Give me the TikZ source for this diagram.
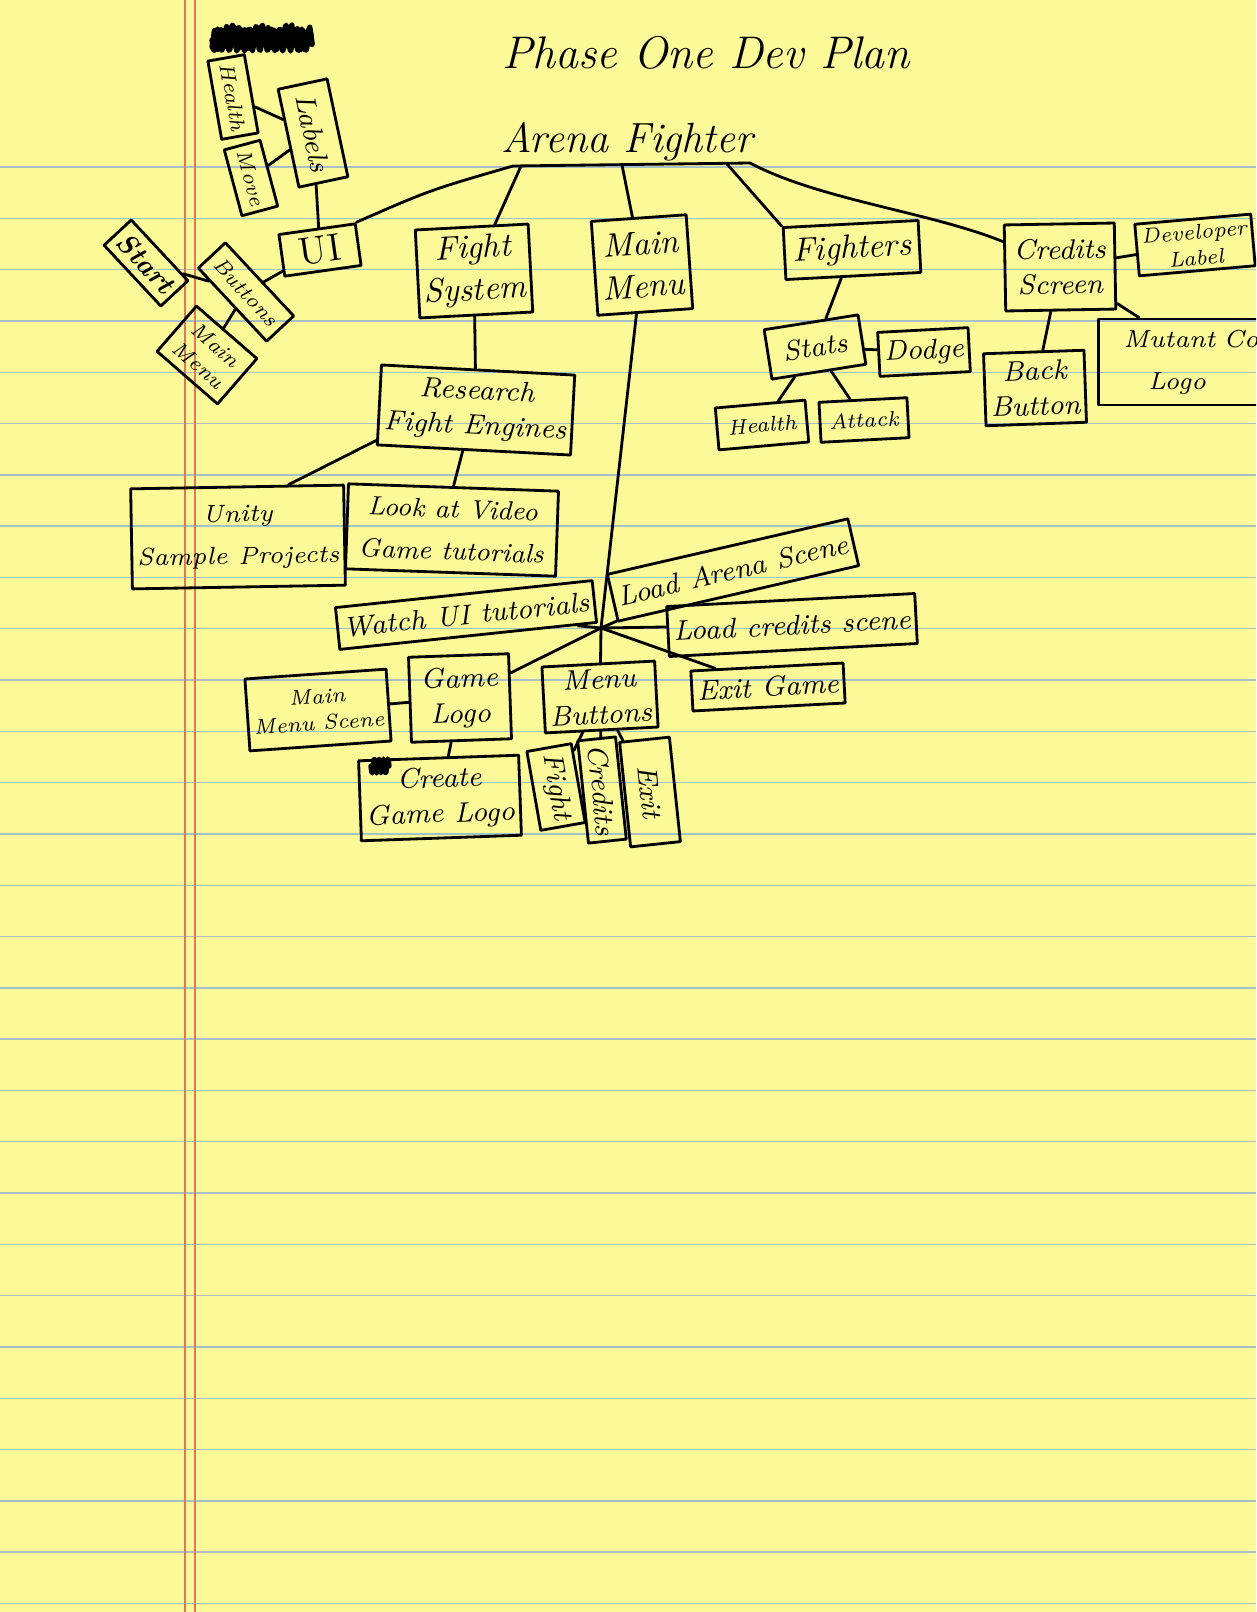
\documentclass[tikz,border=0pt]{standalone}
\usetikzlibrary{calc}

\definecolor{legal}{RGB}{252,250,152}
\definecolor{rule}{RGB}{168,192,200}
\definecolor{margin}{RGB}{226,118,98}

\tikzset{
  pen/.style={line width=0.8pt, black, line cap=round, line join=round},
  card/.style={draw, pen, align=center, inner sep=1.5pt, font=\fontsize{8}{10}\selectfont\itshape},
  tiny/.style={font=\fontsize{6}{7.5}\selectfont\itshape},
  big/.style={font=\fontsize{9.5}{12}\selectfont\itshape},
  heading/.style={inner sep=0pt, font=\fontsize{13}{15}\selectfont\itshape},
}

\begin{document}
\begin{tikzpicture}[x=0.01cm, y=-0.01cm]
  \fill[legal] (0,0) rectangle (1256,1612);
  \useasboundingbox (0,0) rectangle (1256,1612);
  \clip (0,0) rectangle (1256,1612);
  \foreach \k in {0,...,28}
    \draw[rule, line width=0.4pt] (0,167+51.3*\k) -- (1256,167+51.3*\k);
  \draw[margin, line width=0.5pt] (185,0) -- (185,1612);
  \draw[margin, line width=0.5pt] (195,0) -- (195,1612);

  % title and root
  \node[heading] (title) at (706,53) {Phase One Dev Plan};
  \node[heading, font=\fontsize{12}{14}\selectfont\itshape] (arena) at (627,142) {Arena Fighter};
  \coordinate (ulL) at (513,166);
  \coordinate (ulR) at (750,163);
  \coordinate (a1) at (521,166);
  \coordinate (a2) at (622,165);
  \coordinate (a3) at (727,164);
  \draw[pen] (ulL) -- (ulR);

  % crossed out word
  \draw[pen, line width=1.5pt] plot[domain=0:100, samples=90] ({212+\x}, {40+11*sin(\x*47)});
  \draw[pen, line width=1.5pt] plot[domain=0:100, samples=90] ({212+\x}, {37+10*cos(\x*61)+3*sin(\x*13)});

  % UI
  \node[card, tiny, rotate=-80, minimum width=0.68cm, minimum height=0.37cm] (hp) at (233,97) {Health};
  \node[card, tiny, rotate=-75, minimum width=0.63cm, minimum height=0.37cm] (move) at (251,178) {Move};
  \node[card, rotate=-78, minimum width=1.0cm, minimum height=0.5cm] (labels) at (313,133) {Labels};
  \node[card, font=\fontsize{11}{13}\selectfont, rotate=8, minimum width=0.77cm, minimum height=0.42cm] (ui) at (320,250) {UI};
  \node[card, tiny, rotate=-47, minimum width=1.0cm, minimum height=0.37cm] (buttons) at (246,292) {Buttons};
  \node[card, rotate=-47, minimum width=0.83cm, minimum height=0.37cm, font=\fontsize{8}{10}\selectfont\bfseries\itshape] (start) at (146,263) {Start};
  \node[card, tiny, rotate=-41, minimum width=0.8cm, minimum height=0.6cm] (mm) at (207,355) {Main\\Menu};

  % top row
  \node[card, big, rotate=3, minimum width=1.1cm, minimum height=0.88cm] (fight) at (474,271) {Fight\\System};
  \node[card, big, rotate=4, minimum width=0.95cm, minimum height=0.94cm] (mainmenu) at (642,265) {Main\\Menu};
  \node[card, big, rotate=3, minimum width=1.35cm, minimum height=0.52cm] (fighters) at (852,250) {Fighters};
  \node[card, rotate=1, minimum width=1.1cm, minimum height=0.86cm] (credits) at (1060,267) {Credits\\Screen};

  % credits
  \node[card, tiny, rotate=5, minimum width=0.98cm, minimum height=0.5cm] (devlabel) at (1195,245) {Developer\\Label};
  \node[card, anchor=west, align=left, font=\fontsize{7}{12}\selectfont\itshape, inner xsep=0.25cm, text width=1.7cm, minimum height=0.86cm] (mutant) at (1097,362) {Mutant Corp\\\quad Logo};
  \node[card, rotate=2, minimum width=1.0cm, minimum height=0.72cm] (back) at (1035,388) {Back\\Button};

  % fighters
  \node[card, rotate=9, minimum width=0.95cm, minimum height=0.5cm] (stats) at (815,347) {Stats};
  \node[card, rotate=3, minimum width=0.76cm, minimum height=0.44cm] (dodge) at (924,352) {Dodge};
  \node[card, tiny, rotate=5, minimum width=0.9cm, minimum height=0.42cm] (hp2) at (762,425) {Health};
  \node[card, tiny, rotate=3, minimum width=0.88cm, minimum height=0.4cm] (attack) at (864,420) {Attack};

  % fight system
  \node[card, rotate=-3, minimum width=1.85cm, minimum height=0.8cm] (research) at (476,410) {Research\\Fight Engines};
  \node[card, rotate=1, font=\fontsize{7}{12}\selectfont\itshape, minimum width=1.82cm, minimum height=1.0cm] (unity) at (238,537) {Unity\\Sample Projects};
  \node[card, rotate=-2, font=\fontsize{7.5}{12}\selectfont\itshape, minimum width=2.1cm, minimum height=0.85cm] (look) at (452,530) {Look at Video\\Game tutorials};

  % main menu
  \coordinate (hub) at (601,628);
  \node[card, rotate=6, minimum width=2.25cm, minimum height=0.42cm] (watch) at (466,615) {Watch UI tutorials};
  \node[card, rotate=13, minimum width=2.15cm, minimum height=0.48cm] (loadarena) at (733,570) {Load Arena Scene};
  \node[card, rotate=3, minimum width=2.26cm, minimum height=0.5cm] (loadcredits) at (792,625) {Load credits scene};
  \node[card, rotate=3, minimum width=1.37cm, minimum height=0.4cm] (exitgame) at (768,687) {Exit Game};
  \node[card, rotate=2, minimum width=1.0cm, minimum height=0.85cm] (logo) at (460,698) {Game\\Logo};
  \node[card, rotate=3, minimum width=1.1cm, minimum height=0.66cm] (menubtn) at (600,697) {Menu\\Buttons};
  \node[card, tiny, rotate=4, minimum width=1.28cm, minimum height=0.72cm] (mmscene) at (318,710) {Main\\Menu Scene};
  \node[card, rotate=2, minimum width=1.6cm, minimum height=0.8cm] (createlogo) at (440,798) {Create\\Game Logo};
  \draw[pen, line width=1.5pt] plot[domain=0:18, samples=30] ({371+\x}, {766+7*sin(\x*80)});
  \node[card, rotate=-80, minimum width=0.8cm, minimum height=0.45cm] (fightbtn) at (556,787) {Fight};
  \node[card, rotate=-84, minimum width=1.0cm, minimum height=0.38cm] (creditsbtn) at (602,790) {Credits};
  \node[card, rotate=-84, minimum width=1.05cm, minimum height=0.5cm] (exitbtn) at (650,792) {Exit};

  % connectors
  \draw[pen] (ulL) .. controls (430,190) .. (ui.north east);
  \draw[pen] (a1) -- (fight);
  \draw[pen] (a2) -- (mainmenu);
  \draw[pen] (a3) -- (fighters.north west);
  \draw[pen] (ulR) .. controls (820,200) and (930,212) .. (credits.155);

  \draw[pen] (hp) -- (labels);
  \draw[pen] (move) -- (labels);
  \draw[pen] (labels) -- (ui);
  \draw[pen] (ui) -- (buttons);
  \draw[pen] (start) -- (buttons);
  \draw[pen] (buttons) -- (mm);

  \draw[pen] (fight) -- (research);
  \draw[pen] (research.200) -- (unity.45);
  \draw[pen] (research.255) -- (look.north);

  \draw[pen] (fighters) -- (stats);
  \draw[pen] (stats) -- (dodge);
  \draw[pen] (stats) -- (hp2);
  \draw[pen] (stats) -- (attack);

  \draw[pen] (credits) -- (devlabel);
  \draw[pen] (credits) -- (mutant);
  \draw[pen] (credits) -- (back);

  \draw[pen] (mainmenu) -- (hub);
  \draw[pen] (hub) -- (watch);
  \draw[pen] (hub) -- (loadarena);
  \draw[pen] (hub) -- (loadcredits);
  \draw[pen] (hub) -- (exitgame);
  \draw[pen] (hub) -- (logo);
  \draw[pen] (hub) -- (menubtn);
  \draw[pen] (logo) -- (mmscene);
  \draw[pen] (logo) -- (createlogo);
  \draw[pen] (menubtn) -- (fightbtn);
  \draw[pen] (menubtn) -- (creditsbtn);
  \draw[pen] (menubtn) -- (exitbtn);
\end{tikzpicture}
\end{document}
